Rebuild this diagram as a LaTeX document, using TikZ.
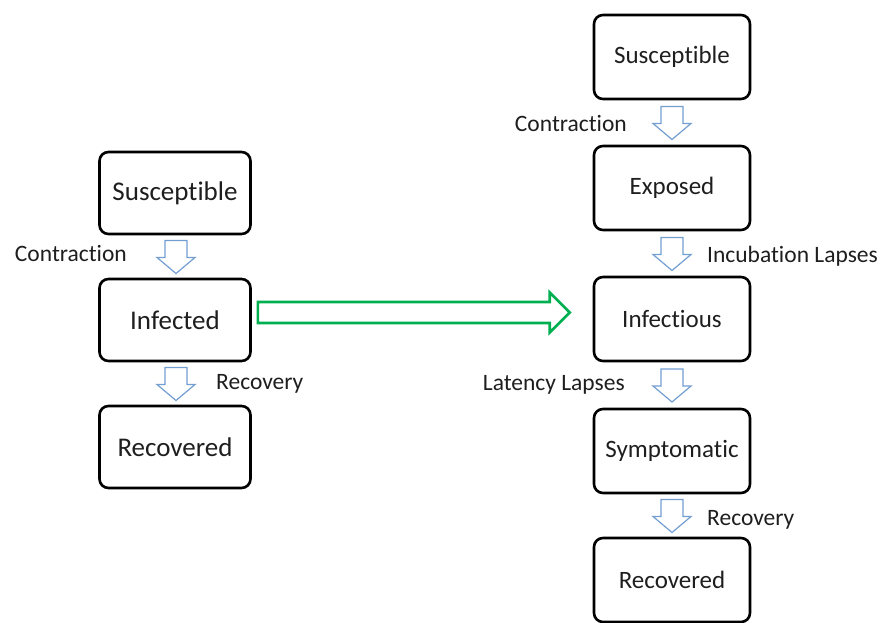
\documentclass[tikz,border=0pt]{standalone}
\usepackage{fontspec}
\setmainfont{Carlito}[Ligatures={NoCommon,NoContextual}]
\usetikzlibrary{calc}
\definecolor{arrblue}{RGB}{115,158,210}
\definecolor{arrgreen}{RGB}{0,176,80}
\definecolor{txt}{RGB}{30,30,30}
\begin{document}
\begin{tikzpicture}[x=1pt,y=-1pt,
  boxbase/.style={draw=black, line width=2.6pt, rounded corners=9pt, inner sep=0pt, text=txt, align=center},
  lbox/.style={boxbase, minimum width=151pt, minimum height=82pt, font=\fontsize{27}{30}\selectfont},
  rbox/.style={boxbase, minimum width=156pt, minimum height=84pt, font=\fontsize{25}{28}\selectfont},
  lbl/.style={inner sep=0pt, text=txt, font=\fontsize{23.5}{26}\selectfont, text height=0.68em, text depth=0.2em},
  blockarr/.style={draw=arrblue, line width=1.2pt, fill=white, line join=miter},
  greenarr/.style={draw=arrgreen, line width=2.6pt, fill=white, line join=miter},
  downarr/.pic={\draw[blockarr] (-11,-16) -- (11,-16) -- (11,1) -- (19,1) -- (0,17) -- (-19,1) -- (-11,1) -- cycle;}
]
\useasboundingbox (0,0) rectangle (884,623);

% left column
\node[lbox] (lsus) at (175,193) {Susceptible};
\node[lbox] (linf) at (175,320) {Infected};
\node[lbox] (lrec) at (175,447) {Recovered};

% right column
\node[rbox] (rsus) at (672,57) {Susceptible};
\node[rbox] (rexp) at (672,188) {Exposed};
\node[rbox] (rinf) at (672,319) {Infectious};
\node[rbox] (rsym) at (672,451) {Symptomatic};
\node[rbox] (rrec) at (672,580) {Recovered};

% block arrows
\coordinate (a1) at ($(lsus.south)!0.5!(linf.north)+(1,0)$);
\coordinate (a2) at ($(linf.south)!0.5!(lrec.north)+(1,0)$);
\coordinate (b1) at ($(rsus.south)!0.5!(rexp.north)$);
\coordinate (b2) at ($(rexp.south)!0.5!(rinf.north)$);
\coordinate (b3) at ($(rinf.south)!0.5!(rsym.north)$);
\coordinate (b4) at ($(rsym.south)!0.5!(rrec.north)$);
\foreach \c in {a1,a2,b1,b2,b3,b4} { \pic at (\c) {downarr}; }

% labels
\node[lbl, anchor=east] (lc) at ($(a1)+(-49,3)$) {Contraction};
\node[lbl, anchor=west] (lr) at ($(a2)+(40,4)$) {Recovery};
\node[lbl, anchor=east] (rc) at ($(b1)+(-45,7)$) {Contraction};
\node[lbl, anchor=west] (ri) at ($(b2)+(35,7)$) {Incubation Lapses};
\node[lbl, anchor=east] (rl) at ($(b3)+(-47,3)$) {Latency Lapses};
\node[lbl, anchor=west] (rr) at ($(b4)+(35,8)$) {Recovery};

% green arrow
\coordinate (gs) at ($(linf.east)+(6,-7.5)$);
\coordinate (ge) at ($(rinf.west)+(-23,-6.5)$);
\draw[greenarr] ($(gs)+(0,-10.5)$) -- ($(ge)+(-20,-10.5)$) -- ($(ge)+(-20,-20)$) -- (ge)
  -- ($(ge)+(-20,20)$) -- ($(ge)+(-20,10.5)$) -- ($(gs)+(0,10.5)$) -- cycle;
\end{tikzpicture}
\end{document}
